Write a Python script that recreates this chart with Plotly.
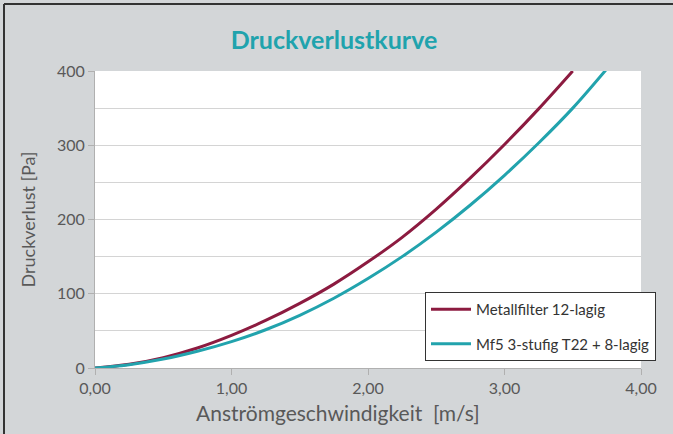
import plotly.graph_objects as go

# Data
v_metall = [0, 0.25, 0.5, 0.75, 1.0, 1.25, 1.5, 1.75, 2.0, 2.25, 2.5, 2.75, 3.0, 3.25, 3.5]
dp_metall = [0, 5, 14, 27, 44, 64, 87, 113, 143, 176, 214, 256, 301, 349, 400]

v_mf5 = [0, 0.25, 0.5, 0.75, 1.0, 1.25, 1.5, 1.75, 2.0, 2.25, 2.5, 2.75, 3.0, 3.25, 3.5, 3.75]
dp_mf5 = [0, 4.5, 12, 22.5, 35.5, 51.5, 71, 94, 120.5, 150, 183, 219.5, 259.5, 303, 350, 403]

series_names = ["Metallfilter 12-lagig", "Mf5 3-stufig T22 + 8-lagig"]
x_ticks = [0, 1, 2, 3, 4]
y_ticks = [0, 100, 200, 300, 400]
x_title = "Anströmgeschwindigkeit  [m/s]"
y_title = "Druckverlust [Pa]"
chart_title = "Druckverlustkurve"

RED = "#8c1b40"
TEAL = "#22a3ad"
FONT = "Lato, Open Sans, sans-serif"

fig = go.Figure()
fig.add_trace(go.Scatter(x=v_metall, y=dp_metall, mode="lines", name=series_names[0],
                         legendgroup="a",
                         line=dict(color=RED, width=3, shape="spline")))
fig.add_trace(go.Scatter(x=v_mf5, y=dp_mf5, mode="lines", name=series_names[1],
                         legendgroup="b",
                         line=dict(color=TEAL, width=3, shape="spline")))

L, R, T, B = 95, 32, 71, 66
W, H = 673, 434
pw, ph = W - L - R, H - T - B

def px(x):
    return (x - L) / pw

def py(y):
    return (H - B - y) / ph

fig.update_layout(
    width=W, height=H,
    margin=dict(l=L, r=R, t=T, b=B),
    paper_bgcolor="#d3d6d8",
    plot_bgcolor="#ffffff",
    separators=",.",
    font=dict(family=FONT, color="#595959", size=15),
    title=dict(text="<b>" + chart_title + "</b>", x=334 / W, xanchor="center",
               y=1 - 40 / H, yanchor="middle",
               font=dict(family=FONT, size=25, color="#20a3ad")),
    showlegend=True,
    legend=dict(x=px(425), y=py(292), xanchor="left", yanchor="top",
                bgcolor="#ffffff", bordercolor="#333333", borderwidth=1,
                font=dict(family=FONT, size=15, color="#333333"),
                itemwidth=40, tracegroupgap=12),
    xaxis=dict(range=[0, 4], tickvals=x_ticks, tickformat=".2f",
               showgrid=False, zeroline=False,
               showline=True, linecolor="#b0b0b0", linewidth=1,
               ticks="outside", ticklen=6, tickcolor="#b0b0b0",
               tickfont=dict(size=16, color="#595959")),
    yaxis=dict(range=[0, 400], tickvals=y_ticks,
               showgrid=True, gridcolor="#d4d4d4", gridwidth=1, zeroline=False,
               minor=dict(dtick=50, showgrid=True, gridcolor="#d4d4d4", ticks=""),
               showline=True, linecolor="#b0b0b0", linewidth=1,
               ticks="outside", ticklen=6, tickcolor="#b0b0b0",
               tickfont=dict(size=16, color="#595959"),
               title=dict(text=y_title, standoff=16,
                          font=dict(size=18, color="#595959"))),
    annotations=[dict(text=x_title, xref="paper", yref="paper",
                      x=px(338), y=py(412), xanchor="center", yanchor="middle",
                      showarrow=False, font=dict(family=FONT, size=21, color="#595959"))],
    shapes=[
        dict(type="line", xref="paper", yref="paper",
             x0=px(4), x1=px(690), y0=py(4), y1=py(4),
             line=dict(color="#333333", width=2), layer="above"),
        dict(type="line", xref="paper", yref="paper",
             x0=px(4), x1=px(4), y0=py(450), y1=py(4),
             line=dict(color="#333333", width=2), layer="above"),
    ],
)

fig.write_html("out.html", config={"displayModeBar": False},
               post_script="document.body.style.margin='0';")
